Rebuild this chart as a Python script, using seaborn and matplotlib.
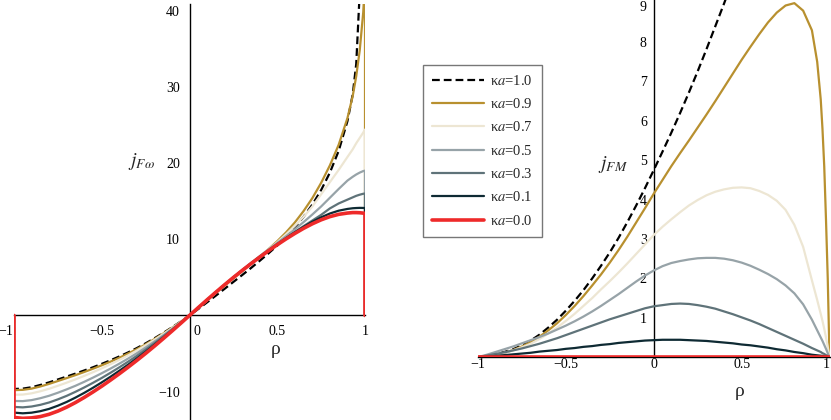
import numpy as np
import matplotlib
matplotlib.use('Agg')
import matplotlib.pyplot as plt
import matplotlib.transforms as mtransforms
from matplotlib.ticker import FixedLocator, MultipleLocator
import seaborn as sns

# --- data ---
ka_labels = ['κ$a$=1.0', 'κ$a$=0.9', 'κ$a$=0.7', 'κ$a$=0.5', 'κ$a$=0.3', 'κ$a$=0.1', 'κ$a$=0.0']

# left panel: j_Fw vs rho (curves drop back to 0 at rho = -1 and rho = 1)
rho_l = [-1, -1, -0.95, -0.9, -0.85, -0.8, -0.75, -0.7, -0.65, -0.6, -0.55, -0.5,
         -0.45, -0.4, -0.35, -0.3, -0.25, -0.2, -0.15, -0.1, -0.05, 0,
         0.05, 0.1, 0.15, 0.2, 0.25, 0.3, 0.35, 0.4, 0.45, 0.5, 0.55, 0.6,
         0.65, 0.7, 0.75, 0.8, 0.85, 0.9, 0.93, 0.95, 0.97, 0.99, 1, 1]
jfw_10 = [0, -9.65, -9.6, -9.42, -9.12, -8.78, -8.4, -8.02, -7.63, -7.22, -6.8, -6.35,
          -5.88, -5.38, -4.85, -4.28, -3.66, -3.0, -2.3, -1.57, -0.8, 0,
          0.85, 1.72, 2.6, 3.5, 4.4, 5.3, 6.22, 7.17, 8.15, 9.18, 10.3, 11.55,
          12.95, 14.55, 16.45, 18.75, 21.6, 25.5, 29.0, 33.0, 42.5, 70.0, np.nan, np.nan]
jfw_09 = [0, -9.8, -9.76, -9.6, -9.32, -8.98, -8.6, -8.22, -7.83, -7.42, -6.99, -6.54,
          -6.06, -5.55, -5.0, -4.42, -3.79, -3.1, -2.38, -1.62, -0.83, 0,
          1.0, 1.98, 2.95, 3.9, 4.85, 5.8, 6.75, 7.7, 8.7, 9.75, 10.9, 12.2,
          13.7, 15.4, 17.4, 19.7, 22.4, 25.9, 28.8, 31.4, 34.8, 39.8, 44.0, 0]
jfw_07 = [0, -10.4, -10.38, -10.22, -9.95, -9.62, -9.23, -8.82, -8.39, -7.93, -7.45, -6.94,
          -6.4, -5.83, -5.24, -4.6, -3.92, -3.21, -2.45, -1.67, -0.85, 0,
          1.0, 1.99, 2.97, 3.95, 4.92, 5.88, 6.82, 7.75, 8.68, 9.62, 10.65, 11.75,
          12.95, 14.3, 15.9, 17.5, 19.1, 20.8, 21.8, 22.6, 23.3, 24.0, 24.4, 0]
jfw_05 = [0, -11.22, -11.24, -11.11, -10.86, -10.54, -10.14, -9.7, -9.23, -8.71, -8.16, -7.58,
          -6.97, -6.33, -5.66, -4.96, -4.21, -3.43, -2.62, -1.77, -0.9, 0,
          1.01, 2.02, 3.02, 4.02, 5.0, 5.95, 6.88, 7.78, 8.66, 9.52, 10.4, 11.3,
          12.25, 13.25, 14.3, 15.45, 16.6, 17.7, 18.2, 18.5, 18.75, 18.95, 19.0, 0]
jfw_03 = [0, -12.0, -12.06, -11.95, -11.73, -11.42, -11.01, -10.55, -10.02, -9.45, -8.84, -8.2,
          -7.52, -6.81, -6.07, -5.3, -4.49, -3.65, -2.77, -1.87, -0.94, 0,
          1.02, 2.04, 3.04, 4.03, 5.0, 5.93, 6.83, 7.7, 8.54, 9.36, 10.16, 10.95,
          11.72, 12.46, 13.2, 14.05, 14.7, 15.2, 15.5, 15.7, 15.85, 15.97, 16.0, 0]
jfw_01 = [0, -12.75, -12.84, -12.76, -12.56, -12.26, -11.84, -11.35, -10.78, -10.16, -9.49, -8.78,
          -8.04, -7.26, -6.46, -5.62, -4.76, -3.85, -2.92, -1.97, -0.99, 0,
          1.03, 2.05, 3.05, 4.03, 4.99, 5.91, 6.81, 7.68, 8.52, 9.34, 10.14, 10.9,
          11.62, 12.3, 12.88, 13.38, 13.75, 13.98, 14.07, 14.1, 14.12, 14.11, 14.1, 0]
jfw_00 = [0, -13.38, -13.5, -13.44, -13.27, -12.97, -12.55, -12.03, -11.43, -10.76, -10.04, -9.28,
          -8.48, -7.65, -6.79, -5.9, -4.98, -4.03, -3.05, -2.05, -1.03, 0,
          1.03, 2.05, 3.05, 4.03, 4.98, 5.9, 6.79, 7.65, 8.48, 9.28, 10.04, 10.76,
          11.43, 12.03, 12.55, 12.97, 13.27, 13.44, 13.5, 13.5, 13.48, 13.43, 13.4, 0]

# right panel: j_FM vs rho
rho_r = [-1, -0.95, -0.9, -0.85, -0.8, -0.75, -0.7, -0.65, -0.6, -0.55, -0.5,
         -0.45, -0.4, -0.35, -0.3, -0.25, -0.2, -0.15, -0.1, -0.05, 0,
         0.05, 0.1, 0.15, 0.2, 0.25, 0.3, 0.35, 0.4, 0.45, 0.5, 0.55, 0.6,
         0.65, 0.7, 0.75, 0.8, 0.85, 0.9, 0.93, 0.95, 0.96, 0.97, 0.98, 0.99, 1]
jfm_10 = [0, 0.02, 0.07, 0.13, 0.2, 0.3, 0.42, 0.57, 0.75, 0.95, 1.18,
          1.43, 1.7, 2.0, 2.32, 2.66, 3.03, 3.43, 3.85, 4.29, 4.75,
          5.22, 5.7, 6.2, 6.72, 7.26, 7.82, 8.4, 8.98, 9.58, 10.2] + [np.nan] * 15
jfm_09 = [0, 0.02, 0.06, 0.11, 0.18, 0.27, 0.38, 0.52, 0.68, 0.86, 1.07,
          1.3, 1.55, 1.82, 2.1, 2.4, 2.72, 3.06, 3.42, 3.78, 4.15,
          4.5, 4.85, 5.18, 5.5, 5.83, 6.16, 6.5, 6.85, 7.2, 7.55, 7.88, 8.2,
          8.5, 8.75, 8.93, 8.99, 8.8, 8.3, 7.5, 6.55, 5.8, 4.85, 3.5, 2.0, 0]
jfm_07 = [0, 0.02, 0.06, 0.11, 0.17, 0.25, 0.34, 0.46, 0.6, 0.75, 0.92,
          1.1, 1.3, 1.5, 1.72, 1.93, 2.15, 2.38, 2.62, 2.86, 3.1,
          3.31, 3.5, 3.68, 3.85, 3.99, 4.11, 4.2, 4.26, 4.3, 4.31, 4.29, 4.22,
          4.12, 3.97, 3.74, 3.36, 2.8, 1.95, 1.45, 1.1, 0.92, 0.72, 0.5, 0.26, 0]
jfm_05 = [0, 0.06, 0.13, 0.2, 0.27, 0.35, 0.43, 0.51, 0.6, 0.7, 0.8,
          0.91, 1.03, 1.16, 1.3, 1.45, 1.6, 1.76, 1.92, 2.07, 2.2,
          2.31, 2.39, 2.44, 2.48, 2.51, 2.52, 2.52, 2.5, 2.46, 2.4, 2.32, 2.22,
          2.11, 1.98, 1.82, 1.62, 1.34, 0.95, 0.68, 0.5, 0.41, 0.31, 0.21, 0.1, 0]
jfm_03 = [0, 0.04, 0.08, 0.12, 0.17, 0.22, 0.28, 0.34, 0.41, 0.48, 0.56,
          0.64, 0.72, 0.8, 0.88, 0.96, 1.03, 1.1, 1.17, 1.24, 1.29,
          1.32, 1.35, 1.36, 1.35, 1.32, 1.28, 1.23, 1.16, 1.09, 1.01, 0.93, 0.84,
          0.74, 0.64, 0.54, 0.44, 0.34, 0.23, 0.17, 0.13, 0.1, 0.08, 0.05, 0.03, 0]
jfm_01 = [0, 0.01, 0.03, 0.05, 0.07, 0.09, 0.11, 0.14, 0.16, 0.18, 0.21,
          0.23, 0.26, 0.28, 0.31, 0.33, 0.36, 0.38, 0.4, 0.42, 0.43,
          0.44, 0.44, 0.44, 0.43, 0.42, 0.41, 0.39, 0.37, 0.35, 0.32, 0.3, 0.27,
          0.24, 0.2, 0.17, 0.13, 0.1, 0.06, 0.045, 0.035, 0.03, 0.02, 0.015, 0.008, 0]
jfm_00 = [0] * 46

colors = ['black', '#b8902f', '#ede6d3', '#97a3a8', '#5f7379', '#0e2a33', '#ee2a2a']
widths = [1.6, 1.6, 1.6, 1.6, 1.6, 1.6, 2.6]
styles = [(0, (3.5, 1.8)), '-', '-', '-', '-', '-', '-']

left_series = [jfw_10, jfw_09, jfw_07, jfw_05, jfw_03, jfw_01, jfw_00]
right_series = [jfm_10, jfm_09, jfm_07, jfm_05, jfm_03, jfm_01, jfm_00]

sns.set_style('white')
plt.rcParams['font.family'] = ['Liberation Serif', 'DejaVu Serif']
plt.rcParams['mathtext.fontset'] = 'stix'

fig = plt.figure(figsize=(8.31, 4.2), dpi=100)
ax1 = fig.add_axes([14 / 831, 1 - 419.1 / 420, 351 / 831, 415.3 / 420])
ax2 = fig.add_axes([478 / 831, 1 - 357.1 / 420, 351.5 / 831, 357.1 / 420])

for i in range(7):
    sns.lineplot(x=rho_l, y=left_series[i], ax=ax1, estimator=None, sort=False,
                 color=colors[i], lw=widths[i], linestyle=styles[i],
                 label=ka_labels[i], zorder=3 + i * 0.1)
    sns.lineplot(x=rho_r, y=right_series[i], ax=ax2, estimator=None, sort=False,
                 color=colors[i], lw=widths[i], linestyle=styles[i],
                 legend=False, zorder=3 + i * 0.1)

handles, labels = ax1.get_legend_handles_labels()
ax1.get_legend().remove()

xt = [-1, -0.5, 0, 0.5, 1]
xtl = ['−1', '−0.5', '0', '0.5', '1']
for ax in (ax1, ax2):
    ax.set_facecolor('none')
    ax.spines['top'].set_visible(False)
    ax.spines['right'].set_visible(False)
    ax.spines['left'].set_position(('data', 0))
    ax.spines['bottom'].set_position(('data', 0))
    for s in ('left', 'bottom'):
        ax.spines[s].set_linewidth(1.0)
        ax.spines[s].set_color('black')
    ax.set_xlim(-1, 1)
    ax.xaxis.set_major_locator(FixedLocator(xt))
    ax.set_xticklabels(xtl)
    ax.xaxis.set_minor_locator(MultipleLocator(0.1))
    ax.tick_params(which='major', direction='out', length=3.5, width=0.8,
                   labelsize=10, colors='black')
    ax.tick_params(which='minor', direction='out', length=2, width=0.7)
    ax.set_xlabel('')
    ax.set_ylabel('')

ax1.set_ylim(-13.6, 40.9)
ax1.yaxis.set_major_locator(FixedLocator([-10, 10, 20, 30, 40]))
ax1.set_yticklabels(['−10', '10', '20', '30', '40'])
ax1.yaxis.set_minor_locator(MultipleLocator(5))

ax2.set_ylim(0, 9.07)
ax2.yaxis.set_major_locator(FixedLocator([1, 2, 3, 4, 5, 6, 7, 8, 9]))
ax2.set_yticklabels([str(v) for v in range(1, 10)])
ax2.yaxis.set_minor_locator(MultipleLocator(0.5))
ax2.tick_params(axis='x', which='major', pad=-3)
ax2.tick_params(axis='y', which='major', pad=1.5)


def nudge(lab, dx, dy):
    lab.set_transform(lab.get_transform() +
                      mtransforms.ScaledTranslation(dx / 100, dy / 100, fig.dpi_scale_trans))


# shift the origin label off the y axis, and the -1 label leftwards (left panel)
for lab in ax1.get_xticklabels():
    if lab.get_text() == '0':
        nudge(lab, 7, 0)
    if lab.get_text() == '−1':
        nudge(lab, -8, 0)
# keep the edge labels of the right panel inside the picture
for lab in ax2.get_xticklabels():
    if lab.get_text() == '1':
        nudge(lab, -3, 0)
for lab in ax2.get_yticklabels():
    if lab.get_text() == '9':
        nudge(lab, 0, -3)

fig.text(276 / 831, 1 - 350 / 420, 'ρ', fontsize=14, ha='center', va='center')
fig.text(740 / 831, 1 - 392 / 420, 'ρ', fontsize=14, ha='center', va='center')
fig.text(142 / 831, 1 - 161 / 420, r'$j_{F\omega}$', fontsize=14, ha='center', va='center')
fig.text(613 / 831, 1 - 165 / 420, r'$j_{FM}$', fontsize=14, ha='center', va='center')

leg = fig.legend(handles, labels, loc='upper left', bbox_to_anchor=(423 / 831, 1 - 65 / 420),
                 frameon=True, fancybox=False, edgecolor='#555555', fontsize=10.5,
                 handlelength=3.6, handletextpad=0.4, labelspacing=0.64,
                 borderpad=0.6, borderaxespad=0)
leg.get_frame().set_linewidth(1.0)

fig.savefig('out.png', dpi=100)
